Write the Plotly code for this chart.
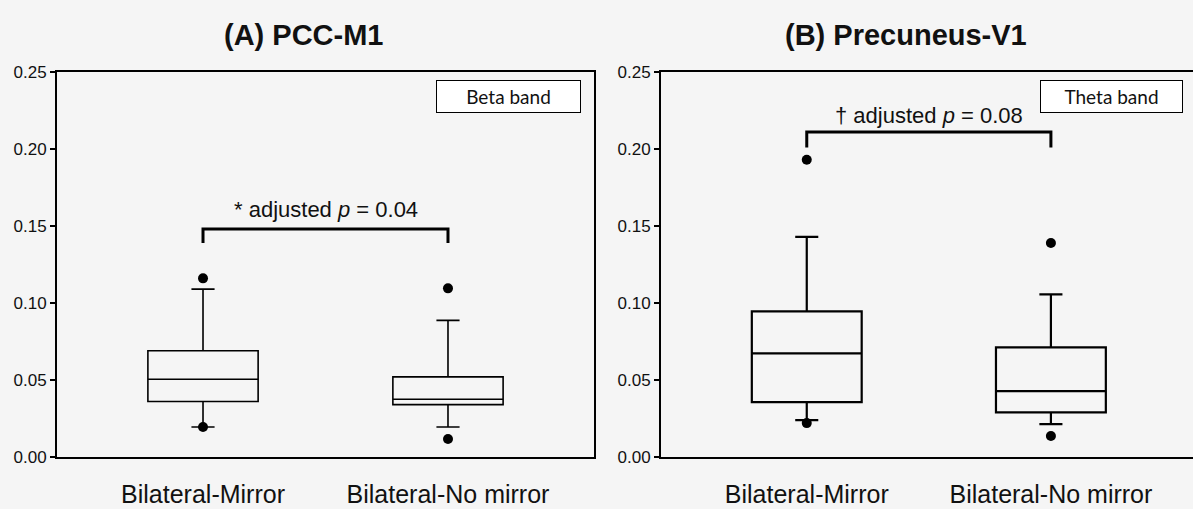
import plotly.graph_objects as go

categories = ["Bilateral-Mirror", "Bilateral-No mirror"]

# (A) PCC-M1, beta band
pcc_q1 = [0.036, 0.034]
pcc_median = [0.0505, 0.0375]
pcc_q3 = [0.069, 0.052]
pcc_lower = [0.0195, 0.0195]
pcc_upper = [0.109, 0.0887]
pcc_out_x = [categories[0], categories[0], categories[1], categories[1]]
pcc_out_y = [0.116, 0.0195, 0.1095, 0.0117]

# (B) Precuneus-V1, theta band
pre_q1 = [0.0356, 0.029]
pre_median = [0.0673, 0.0428]
pre_q3 = [0.0946, 0.0712]
pre_lower = [0.024, 0.0214]
pre_upper = [0.143, 0.1056]
pre_out_x = [categories[0], categories[0], categories[1], categories[1]]
pre_out_y = [0.193, 0.022, 0.139, 0.0136]

# significance brackets
pcc_bracket_y = [0.139, 0.148, 0.148, 0.139]
pre_bracket_y = [0.201, 0.211, 0.211, 0.201]
bracket_x = [categories[0], categories[0], categories[1], categories[1]]

titles = ["<b>(A) PCC-M1</b>", "<b>(B) Precuneus-V1</b>"]
bands = ["Beta band", "Theta band"]
sig_texts = ["* adjusted <i>p</i> = 0.04", "† adjusted <i>p</i> = 0.08"]

BG = "#f5f5f5"
FONT = "Liberation Sans, Arial, sans-serif"

fig = go.Figure()

for i, (q1, med, q3, lo, up, ox, oy, lw) in enumerate([
    (pcc_q1, pcc_median, pcc_q3, pcc_lower, pcc_upper, pcc_out_x, pcc_out_y, 1.6),
    (pre_q1, pre_median, pre_q3, pre_lower, pre_upper, pre_out_x, pre_out_y, 2.2),
]):
    xa = "x" if i == 0 else "x2"
    ya = "y" if i == 0 else "y2"
    fig.add_trace(go.Box(
        x=categories, q1=q1, median=med, q3=q3, lowerfence=lo, upperfence=up,
        xaxis=xa, yaxis=ya, boxpoints=False, width=0.45, whiskerwidth=0.21,
        line=dict(color="black", width=lw), fillcolor="rgba(0,0,0,0)",
        showlegend=False, hoverinfo="skip",
    ))
    fig.add_trace(go.Scatter(
        x=ox, y=oy, xaxis=xa, yaxis=ya, mode="markers",
        marker=dict(color="black", size=10), showlegend=False, hoverinfo="skip",
    ))

fig.add_trace(go.Scatter(x=bracket_x, y=pcc_bracket_y, xaxis="x", yaxis="y", mode="lines",
                         line=dict(color="black", width=3), showlegend=False, hoverinfo="skip"))
fig.add_trace(go.Scatter(x=bracket_x, y=pre_bracket_y, xaxis="x2", yaxis="y2", mode="lines",
                         line=dict(color="black", width=3), showlegend=False, hoverinfo="skip"))

yax = dict(range=[0, 0.25], tickvals=[0, 0.05, 0.10, 0.15, 0.20, 0.25], tickformat=".2f",
           ticks="outside", ticklen=5, tickwidth=1.5, tickcolor="black",
           showline=True, linecolor="black", linewidth=2, showgrid=False, zeroline=False,
           tickfont=dict(family=FONT, size=17, color="#111"), fixedrange=True)
xax = dict(type="category", showline=True, linecolor="black", linewidth=2, mirror=True,
           showgrid=False, zeroline=False, ticks="",
           tickfont=dict(family=FONT, size=25, color="#111"), ticklabelstandoff=14)

L, R, T, B = 57, 0, 72, 52
W, H = 1193, 509
pw = W - L - R
d1 = [0, (594 - L) / pw]
d2 = [(661 - L) / pw, 1.0]

fig.update_layout(
    width=W, height=H, margin=dict(l=L, r=R, t=T, b=B),
    paper_bgcolor=BG, plot_bgcolor=BG,
    xaxis=dict(xax, domain=d1, range=[-0.596, 1.596], anchor="y"),
    xaxis2=dict(xax, domain=d2, range=[-0.597, 1.582], anchor="y2"),
    yaxis=dict(yax, anchor="x", domain=[0, 1], mirror=True),
    yaxis2=dict(yax, anchor="x2", domain=[0, 1], mirror=False),
)

ph = H - T - B
ann = []
# panel titles
for xpix, t in zip([304, 906], titles):
    ann.append(dict(text=t, xref="paper", yref="paper", x=(xpix - L) / pw, y=(H - B - 35) / ph,
                    xanchor="center", yanchor="middle", showarrow=False,
                    font=dict(family=FONT, size=29, color="#111")))
# band labels
ann.append(dict(text=bands[0], xref="x domain", yref="y domain", x=0.975, y=0.979,
                xanchor="right", yanchor="top", showarrow=False, width=139, height=27,
                bgcolor="white", bordercolor="black", borderwidth=1, borderpad=2,
                font=dict(family="Lato, sans-serif", size=19, color="#111")))
ann.append(dict(text=bands[1], xref="x2 domain", yref="y2 domain", x=0.981, y=0.979,
                xanchor="right", yanchor="top", showarrow=False, width=137, height=27,
                bgcolor="white", bordercolor="black", borderwidth=1, borderpad=2,
                font=dict(family="Lato, sans-serif", size=19, color="#111")))
# significance texts
ann.append(dict(text=sig_texts[0], xref="x", yref="y", x=0.5, y=0.161, xanchor="center",
                yanchor="middle", showarrow=False, font=dict(family=FONT, size=22, color="#111")))
ann.append(dict(text=sig_texts[1], xref="x2", yref="y2", x=0.5, y=0.2215, xanchor="center",
                yanchor="middle", showarrow=False, font=dict(family=FONT, size=22, color="#111")))
fig.update_layout(annotations=ann)

fig.write_html("out.html", config={"displayModeBar": False},
               post_script="document.body.style.margin='0';document.body.style.background='%s';" % BG)
